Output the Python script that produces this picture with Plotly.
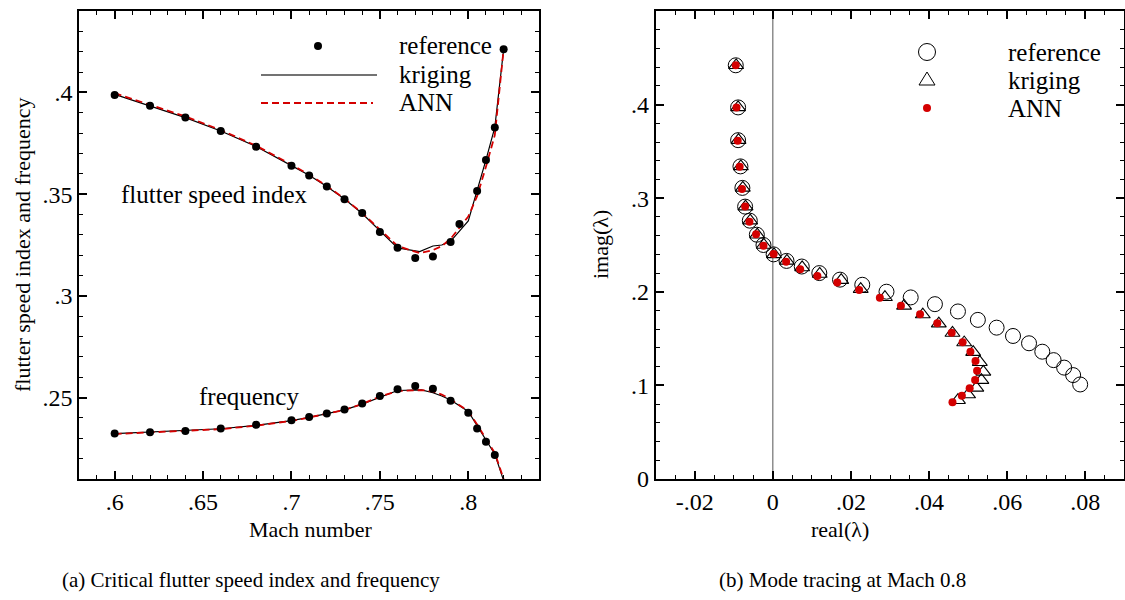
import plotly.graph_objects as go

# ---------------- data: (a) flutter speed index & frequency ----------------
mach_fsi_ref = [0.60, 0.62, 0.64, 0.66, 0.68, 0.70, 0.71, 0.72, 0.73, 0.74, 0.75,
                0.76, 0.77, 0.78, 0.79, 0.795, 0.805, 0.81, 0.815, 0.82]
fsi_ref = [0.3987, 0.3934, 0.3877, 0.3810, 0.3733, 0.3640, 0.3591, 0.3537, 0.3475, 0.3407, 0.3314,
           0.3236, 0.3186, 0.3194, 0.3265, 0.3353, 0.3515, 0.3668, 0.3828, 0.4212]

mach_line = [0.60, 0.62, 0.64, 0.66, 0.68, 0.70, 0.71, 0.72, 0.73, 0.74, 0.75,
             0.76, 0.7725, 0.78, 0.785, 0.79, 0.80, 0.805, 0.81, 0.815, 0.82]
fsi_kriging = [0.3990, 0.3932, 0.3876, 0.3810, 0.3734, 0.3640, 0.3593, 0.3538, 0.3476, 0.3405, 0.3318,
               0.3236, 0.3218, 0.3245, 0.3250, 0.3268, 0.3368, 0.3515, 0.3668, 0.3828, 0.4212]
fsi_ann = [0.3996, 0.3940, 0.3882, 0.3815, 0.3738, 0.3645, 0.3595, 0.3540, 0.3478, 0.3407, 0.3325,
           0.3245, 0.3210, 0.3225, 0.3245, 0.3280, 0.3390, 0.3490, 0.3635, 0.3790, 0.4212]

mach_freq_ref = [0.60, 0.62, 0.64, 0.66, 0.68, 0.70, 0.71, 0.72, 0.73, 0.74, 0.75,
                 0.76, 0.77, 0.78, 0.79, 0.80, 0.805, 0.81, 0.815]
freq_ref = [0.2324, 0.2330, 0.2336, 0.2348, 0.2366, 0.2389, 0.2405, 0.2422, 0.2441, 0.2471, 0.2508,
            0.2541, 0.2557, 0.2544, 0.2485, 0.2426, 0.2348, 0.2283, 0.2218]

mach_freq_line = [0.60, 0.62, 0.64, 0.66, 0.68, 0.70, 0.71, 0.72, 0.73, 0.74, 0.75,
                  0.76, 0.7735, 0.78, 0.785, 0.79, 0.80, 0.805, 0.81, 0.815, 0.82]
freq_kriging = [0.2323, 0.2330, 0.2337, 0.2347, 0.2364, 0.2387, 0.2403, 0.2421, 0.2440, 0.2468, 0.2503,
                0.2535, 0.2538, 0.2524, 0.2508, 0.2488, 0.2432, 0.2362, 0.2290, 0.2222, 0.2092]
freq_ann = [0.2321, 0.2328, 0.2335, 0.2345, 0.2362, 0.2386, 0.2402, 0.2420, 0.2440, 0.2469, 0.2505,
            0.2532, 0.2537, 0.2530, 0.2515, 0.2492, 0.2434, 0.2368, 0.2298, 0.2228, 0.2100]

# ---------------- data: (b) mode tracing at Mach 0.8 ----------------
real_ref = [-0.0095, -0.0089, -0.0089, -0.0083, -0.0078, -0.0071, -0.0059, -0.0041, -0.0024, 0.0002,
            0.0035, 0.0074, 0.0119, 0.0172, 0.0229, 0.0291, 0.0353, 0.0415, 0.0474, 0.0525,
            0.0573, 0.0615, 0.0656, 0.0690, 0.0719, 0.0746, 0.0769, 0.0787]
imag_ref = [0.442, 0.397, 0.362, 0.334, 0.311, 0.291, 0.276, 0.261, 0.250, 0.240,
            0.233, 0.227, 0.220, 0.213, 0.2075, 0.2001, 0.194, 0.1868, 0.179, 0.170,
            0.1617, 0.1528, 0.145, 0.136, 0.127, 0.119, 0.111, 0.101]

real_kriging = [-0.0094, -0.0089, -0.0088, -0.0082, -0.0077, -0.0070, -0.0058, -0.0040, -0.0023, 0.0003,
                0.0036, 0.0075, 0.0120, 0.0175, 0.0225, 0.0287, 0.0336, 0.0384, 0.0425, 0.0460,
                0.0490, 0.0513, 0.0530, 0.0539, 0.0534, 0.0521, 0.0500, 0.0474]
imag_kriging = [0.442, 0.397, 0.362, 0.334, 0.311, 0.291, 0.276, 0.261, 0.250, 0.240,
                0.233, 0.226, 0.219, 0.2125, 0.2028, 0.1942, 0.1850, 0.1757, 0.1660, 0.1560,
                0.1458, 0.1355, 0.1248, 0.1145, 0.1056, 0.0974, 0.0902, 0.0842]

real_ann = [-0.0095, -0.0093, -0.0090, -0.0085, -0.0079, -0.0071, -0.0060, -0.0043, -0.0024, 0.0002,
            0.0034, 0.0070, 0.0114, 0.0165, 0.0221, 0.0274, 0.0328, 0.0377, 0.0421, 0.0458,
            0.0486, 0.0506, 0.0519, 0.0523, 0.0518, 0.0504, 0.0484, 0.0460]
imag_ann = [0.442, 0.397, 0.3614, 0.3337, 0.3098, 0.291, 0.2749, 0.2614, 0.2493, 0.2404,
            0.2322, 0.224, 0.2169, 0.2099, 0.2019, 0.1937, 0.1852, 0.176, 0.1663, 0.1563,
            0.146, 0.136, 0.1261, 0.1157, 0.1058, 0.0969, 0.089, 0.0819]

# ---------------- tick labels ----------------
x1_tickvals = [0.60, 0.65, 0.70, 0.75, 0.80]
x1_ticktext = [".6", ".65", ".7", ".75", ".8"]
y1_tickvals = [0.25, 0.30, 0.35, 0.40]
y1_ticktext = [".25", ".3", ".35", ".4"]
x2_tickvals = [-0.02, 0.0, 0.02, 0.04, 0.06, 0.08]
x2_ticktext = ["-.02", "0", ".02", ".04", ".06", ".08"]
y2_tickvals = [0.0, 0.1, 0.2, 0.3, 0.4, 0.5]
y2_ticktext = ["0", ".1", ".2", ".3", ".4", ".5"]

FONT = "Liberation Serif, Times New Roman, serif"
RED = "#d40000"
W, H = 1125, 600
T, B = 11, 121
PH = H - T - B
FS = 25  # main text size
TICK_FS = 24


def px(x):
    return x / W


def py(y):
    return (H - B - y) / PH


fig = go.Figure()

# (a) traces
fig.add_trace(go.Scatter(x=mach_line, y=fsi_kriging, mode="lines",
                         line=dict(color="black", width=1.2), xaxis="x", yaxis="y", showlegend=False))
fig.add_trace(go.Scatter(x=mach_line, y=fsi_ann, mode="lines",
                         line=dict(color=RED, width=1.8, dash="7px,4px"), xaxis="x", yaxis="y", showlegend=False))
fig.add_trace(go.Scatter(x=mach_freq_line, y=freq_kriging, mode="lines",
                         line=dict(color="black", width=1.2), xaxis="x", yaxis="y", showlegend=False))
fig.add_trace(go.Scatter(x=mach_freq_line, y=freq_ann, mode="lines",
                         line=dict(color=RED, width=1.8, dash="7px,4px"), xaxis="x", yaxis="y", showlegend=False))
fig.add_trace(go.Scatter(x=mach_fsi_ref, y=fsi_ref, mode="markers",
                         marker=dict(color="black", size=8), xaxis="x", yaxis="y", showlegend=False))
fig.add_trace(go.Scatter(x=mach_freq_ref, y=freq_ref, mode="markers",
                         marker=dict(color="black", size=8), xaxis="x", yaxis="y", showlegend=False))

# (b) traces
fig.add_trace(go.Scatter(x=real_ref, y=imag_ref, mode="markers",
                         marker=dict(symbol="circle-open", color="black", size=15, line=dict(width=1)),
                         xaxis="x2", yaxis="y2", showlegend=False))
fig.add_trace(go.Scatter(x=real_kriging, y=imag_kriging, mode="markers",
                         marker=dict(symbol="triangle-up-open", color="black", size=13, line=dict(width=1.1)),
                         xaxis="x2", yaxis="y2", showlegend=False))
fig.add_trace(go.Scatter(x=real_ann, y=imag_ann, mode="markers",
                         marker=dict(color=RED, size=8),
                         xaxis="x2", yaxis="y2", showlegend=False))

axis_common = dict(showline=True, linecolor="black", linewidth=2, mirror="ticks",
                   ticks="inside", ticklen=8, tickwidth=1.5, tickcolor="black",
                   showgrid=False, zeroline=False,
                   tickfont=dict(family=FONT, size=TICK_FS, color="black"))

fig.update_layout(
    width=W, height=H,
    margin=dict(l=0, r=0, t=T, b=B),
    paper_bgcolor="white", plot_bgcolor="white",
    showlegend=False,
    xaxis=dict(domain=[px(79.3), px(539)], range=[0.58, 0.84], anchor="y",
               tickmode="array", tickvals=x1_tickvals, ticktext=x1_ticktext,
               minor=dict(dtick=0.01, ticks="inside", ticklen=4, tickwidth=1, tickcolor="black"),
               **axis_common),
    yaxis=dict(domain=[0, 1], range=[0.21, 0.44], anchor="x",
               tickmode="array", tickvals=y1_tickvals, ticktext=y1_ticktext,
               minor=dict(dtick=0.01, ticks="inside", ticklen=4, tickwidth=1, tickcolor="black"),
               **axis_common),
    xaxis2=dict(domain=[px(655.7), px(1124.3)], range=[-0.03, 0.09], anchor="y2",
                tickmode="array", tickvals=x2_tickvals, ticktext=x2_ticktext,
                minor=dict(dtick=0.005, ticks="inside", ticklen=4, tickwidth=1, tickcolor="black"),
                **axis_common),
    yaxis2=dict(domain=[0, 1], range=[0, 0.5], anchor="x2",
                tickmode="array", tickvals=y2_tickvals, ticktext=y2_ticktext,
                minor=dict(dtick=0.02, ticks="inside", ticklen=4, tickwidth=1, tickcolor="black"),
                **axis_common),
)

# vertical reference line at real = 0
fig.add_shape(type="line", xref="x2", yref="y2 domain", x0=0, x1=0, y0=0, y1=1,
              line=dict(color="#555555", width=1), layer="below")

txt = dict(family=FONT, size=FS, color="black")


def ann(x, y, text, xanchor="center", textangle=0, size=FS):
    fig.add_annotation(x=x, y=y, xref="paper", yref="paper", text=text, showarrow=False,
                       xanchor=xanchor, yanchor="middle", textangle=textangle,
                       font=dict(family=FONT, size=size, color="black"))


# axis titles
ann(px(310), py(529), "Mach number", size=22)
ann(px(840), py(529), "real(λ)", size=22)
ann(px(22), py(245), "flutter speed index and frequency", textangle=-90, size=22)
ann(px(600), py(245), "imag(λ)", textangle=-90, size=22)

# captions
ann(px(251), py(580), "(a) Critical flutter speed index and frequency", size=21)
ann(px(842), py(580), "(b) Mode tracing at Mach 0.8", size=21)

# in-plot labels
fig.add_annotation(x=0.6563, y=0.3497, xref="x", yref="y", text="flutter speed index",
                   showarrow=False, font=txt)
fig.add_annotation(x=0.676, y=0.2507, xref="x", yref="y", text="frequency",
                   showarrow=False, font=txt)

# legend (a)
fig.add_shape(type="circle", xref="paper", yref="paper", xsizemode="pixel", ysizemode="pixel",
              xanchor=px(318), yanchor=py(46), x0=-4, x1=4, y0=-4, y1=4,
              fillcolor="black", line=dict(color="black", width=0))
fig.add_shape(type="line", xref="paper", yref="paper", x0=px(261), x1=px(377), y0=py(75), y1=py(75),
              line=dict(color="#444444", width=1.5))
fig.add_shape(type="line", xref="paper", yref="paper", x0=px(261), x1=px(373), y0=py(103), y1=py(103),
              line=dict(color=RED, width=1.8, dash="7px,4px"))
ann(px(397), py(46), "reference", xanchor="left")
ann(px(397), py(75), "kriging", xanchor="left")
ann(px(397), py(103), "ANN", xanchor="left")

# legend (b)
fig.add_shape(type="circle", xref="paper", yref="paper", xsizemode="pixel", ysizemode="pixel",
              xanchor=px(927), yanchor=py(52), x0=-8.5, x1=8.5, y0=-8.5, y1=8.5,
              line=dict(color="black", width=1))
fig.add_shape(type="path", xref="paper", yref="paper", xsizemode="pixel", ysizemode="pixel",
              xanchor=px(927), yanchor=py(79), path="M -8,-6 L 8,-6 L 0,7 Z",
              line=dict(color="black", width=1))
fig.add_shape(type="circle", xref="paper", yref="paper", xsizemode="pixel", ysizemode="pixel",
              xanchor=px(927), yanchor=py(108), x0=-4, x1=4, y0=-4, y1=4,
              fillcolor=RED, line=dict(color=RED, width=0))
ann(px(1005.7), py(52), "reference", xanchor="left")
ann(px(1005.7), py(80), "kriging", xanchor="left")
ann(px(1005.7), py(108), "ANN", xanchor="left")

fig.write_html("out.html")
